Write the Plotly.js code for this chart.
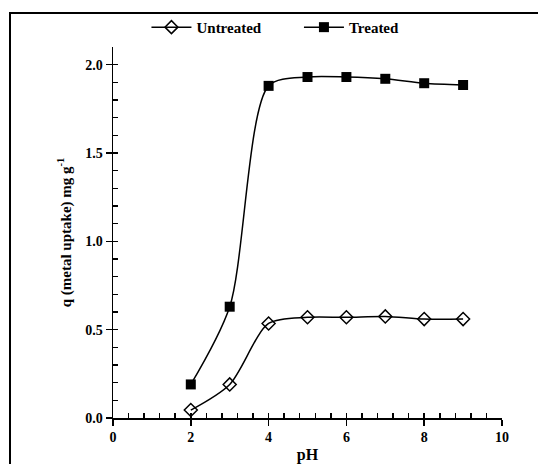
<!DOCTYPE html>
<html>
<head>
<meta charset="utf-8">
<script src="https://cdn.plot.ly/plotly-3.0.1.min.js"></script>
<style>
html,body{margin:0;padding:0;background:#fff;}
#wrap{position:relative;width:538px;height:464px;overflow:hidden;}
#chart{position:absolute;left:0;top:0;width:538px;height:464px;}
#frame{position:absolute;left:9px;top:12px;width:560px;height:480px;border-left:2px solid #000;border-top:2px solid #000;pointer-events:none;}
</style>
</head>
<body>
<div id="wrap"><div id="chart"></div><div id="frame"></div></div>
<script>
const pH = [2, 3, 4, 5, 6, 7, 8, 9];
const untreated = [0.045, 0.19, 0.535, 0.57, 0.57, 0.575, 0.56, 0.56];
const treated = [0.19, 0.63, 1.88, 1.93, 1.93, 1.92, 1.895, 1.885];
const seriesNames = ['Untreated', 'Treated'];

const fontFam = '"Liberation Serif", "Times New Roman", serif';
const traces = [
  {
    x: pH, y: untreated, name: seriesNames[0], type: 'scatter', mode: 'lines+markers', legend: 'legend',
    line: {color: '#000', width: 1.5, shape: 'spline', smoothing: 0.8},
    marker: {symbol: 'diamond-open', size: 10, color: '#000', line: {width: 1.5, color: '#000'}}
  },
  {
    x: pH, y: treated, name: seriesNames[1], type: 'scatter', mode: 'lines+markers', legend: 'legend2',
    line: {color: '#000', width: 1.5, shape: 'spline', smoothing: 0.8},
    marker: {symbol: 'square', size: 10, color: '#000'}
  },
  {
    x: pH, y: treated, xaxis: 'x2', yaxis: 'y2', type: 'scatter', mode: 'markers',
    marker: {opacity: 0}, showlegend: false, hoverinfo: 'skip'
  }
];

const tickFont = {family: fontFam, size: 14, color: '#000', weight: 'bold'};
const legFont = {family: fontFam, size: 15, color: '#000', weight: 'bold'};
const layout = {
  width: 538, height: 464,
  margin: {l: 113, r: 36, t: 46, b: 46, pad: 0},
  paper_bgcolor: '#fff', plot_bgcolor: '#fff',
  showlegend: true,
  legend: {orientation: 'h', x: 0.086, xanchor: 'left', y: 1.05, yanchor: 'middle', font: legFont, itemwidth: 40},
  legend2: {orientation: 'h', x: 0.478, xanchor: 'left', y: 1.05, yanchor: 'middle', font: legFont, itemwidth: 40},
  xaxis: {
    range: [0, 10], dtick: 2, tick0: 0, ticks: 'outside', ticklen: 6, tickwidth: 1.5, tickcolor: '#000',
    showline: true, linewidth: 1.5, linecolor: '#000', showgrid: false, zeroline: false,
    tickfont: tickFont,
    title: {text: 'pH', font: {family: fontFam, size: 16, color: '#000', weight: 'bold'}, standoff: 4}
  },
  yaxis: {
    range: [0, 2.1], dtick: 0.5, tick0: 0, tickformat: '.1f', ticks: 'outside', ticklen: 6, tickwidth: 1.5, tickcolor: '#000',
    showline: true, linewidth: 1.5, linecolor: '#000', showgrid: false, zeroline: false,
    tickfont: tickFont,
    title: {text: 'q (metal uptake) mg g<sup>-1</sup>', font: {family: fontFam, size: 15, color: '#000', weight: 'bold'}, standoff: 10}
  },
  xaxis2: {
    overlaying: 'x', range: [0, 10], dtick: 0.4, tick0: 0, ticks: 'inside', ticklen: 5, tickwidth: 1.5, tickcolor: '#000',
    showticklabels: false, showline: false, showgrid: false, zeroline: false, anchor: 'y2', side: 'bottom'
  },
  yaxis2: {
    overlaying: 'y', range: [0, 2.1], dtick: 0.1, tick0: 0, ticks: 'inside', ticklen: 5, tickwidth: 1.5, tickcolor: '#000',
    showticklabels: false, showline: false, showgrid: false, zeroline: false, anchor: 'x2', side: 'left'
  }
};

Plotly.newPlot('chart', traces, layout, {displayModeBar: false, staticPlot: true});
</script>
</body>
</html>
